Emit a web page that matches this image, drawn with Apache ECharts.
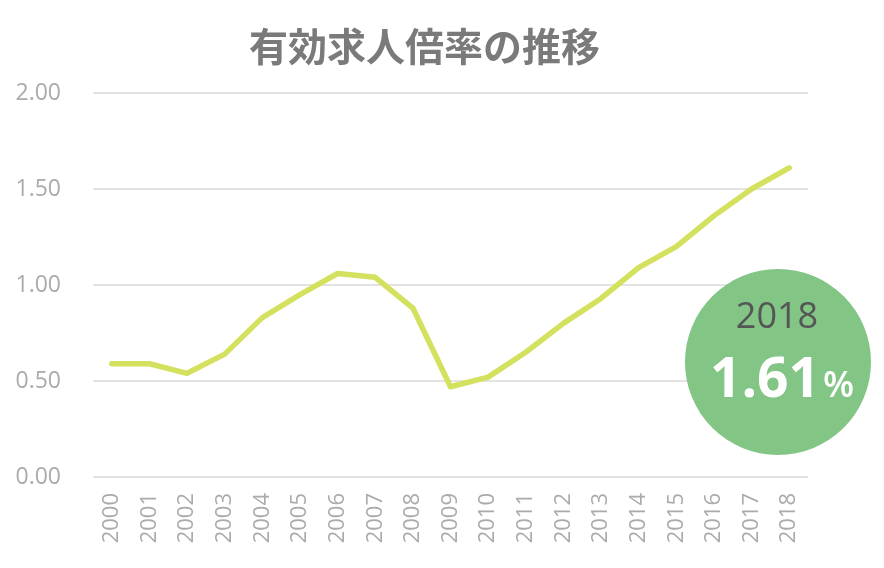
<!DOCTYPE html>
<html><head><meta charset="utf-8">
<script src="https://cdn.jsdelivr.net/npm/echarts@6/dist/echarts.min.js"></script>
<style>html,body{margin:0;padding:0;background:#fff}#c{width:884px;height:568px}</style>
</head><body><div id="c"></div>
<script>
const years = ['2000','2001','2002','2003','2004','2005','2006','2007','2008','2009','2010','2011','2012','2013','2014','2015','2016','2017','2018'];
const ratio = [0.59,0.59,0.54,0.64,0.83,0.95,1.06,1.04,0.88,0.47,0.52,0.65,0.80,0.93,1.09,1.20,1.36,1.50,1.61];
const yTicks = [0, 0.5, 1.0, 1.5, 2.0];
const titleText = '有効求人倍率の推移';
const lastYear = years[years.length-1];
const lastVal = ratio[ratio.length-1];

const chart = echarts.init(document.getElementById('c'));
chart.setOption({
  animation:false,
  title:{text:titleText,left:244,top:22,textStyle:{fontFamily:'Noto Sans CJK JP',fontSize:39,fontWeight:'bold',color:'#7a7a7a'}},
  grid:{left:93,right:76,top:93,bottom:91},
  xAxis:{type:'category',data:years,boundaryGap:true,
    axisLine:{show:false},axisTick:{show:false},
    axisLabel:{rotate:90,margin:16,fontSize:22,color:'#ababab',fontFamily:'Open Sans'}},
  yAxis:{type:'value',min:yTicks[0],max:yTicks[yTicks.length-1],interval:0.5,
    axisLine:{show:false},axisTick:{show:false},
    splitLine:{lineStyle:{color:'#e3e3e3',width:2}},
    axisLabel:{margin:32,fontSize:23,color:'#ababab',fontFamily:'Open Sans',formatter:v=>v.toFixed(2)}},
  series:[{type:'line',data:ratio,symbol:'none',lineStyle:{color:'#d4e15e',width:5.5,cap:'round',join:'round'}}],
  graphic:[
    {type:'circle',shape:{cx:778,cy:362,r:93},style:{fill:'#82c585'},z:10},
    {type:'text',x:777,y:318,style:{text:lastYear,fill:'#555555',fontSize:36,fontFamily:'Open Sans',textAlign:'center',textVerticalAlign:'middle'},z:11},
    {type:'text',x:782,y:381,style:{
      text:'{a|'+lastVal.toFixed(2)+'}{b|%}',textAlign:'center',textVerticalAlign:'middle',
      rich:{a:{fontSize:55,fontWeight:'bold',fill:'#ffffff',color:'#ffffff',fontFamily:'Open Sans'},b:{fontSize:36,fontWeight:'600',fill:'#ffffff',color:'#ffffff',fontFamily:'Open Sans',padding:[12,0,0,3]}}},z:11}
  ]
});
</script></body></html>
